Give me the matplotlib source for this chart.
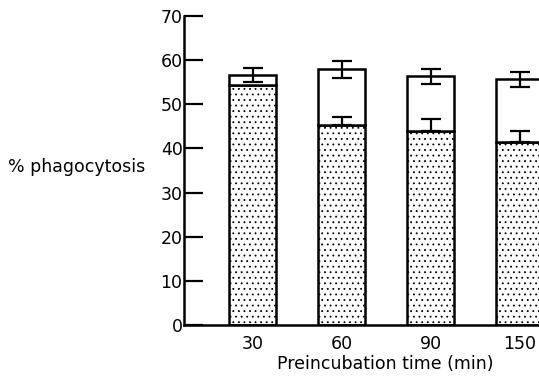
import numpy as np
import matplotlib
matplotlib.use("Agg")
import matplotlib.pyplot as plt

# data
times = ["30", "60", "90", "150"]
lower = [54.4, 45.3, 44.0, 41.4]          # stippled part
lower_err = [0.0, 1.8, 2.7, 2.5]          # upward error only
total = [56.7, 57.9, 56.3, 55.7]          # top of white part
total_err = [1.6, 1.9, 1.65, 1.7]

plt.rcParams['hatch.linewidth'] = 0.6
plt.rcParams['hatch.color'] = '#555555'

fig = plt.figure(figsize=(5.39, 3.76), dpi=100)
# axes stretches past the right edge so the last bar is cut, as in the reference
ax = fig.add_axes([184 / 539, 51 / 376, 380 / 539, 309 / 376])

x = np.arange(len(times))
w = 0.52
ax.bar(x, lower, width=w, color='white', edgecolor='black', linewidth=1.8,
       hatch='...', zorder=2)
ax.bar(x, np.array(total) - np.array(lower), bottom=lower, width=w,
       color='white', edgecolor='black', linewidth=1.8, zorder=2)

ax.errorbar(x, total, yerr=total_err, fmt='none', ecolor='black',
            elinewidth=1.6, capsize=7, capthick=1.6, zorder=3)
ax.errorbar(x[1:], lower[1:], yerr=[np.zeros(3), lower_err[1:]], fmt='none',
            ecolor='black', elinewidth=1.6, capsize=7, capthick=1.6, zorder=3)

ax.set_xlim(-0.77, 3.5)
ax.set_ylim(0, 70)
ax.set_yticks(range(0, 71, 10))
ax.set_xticks(x)
ax.set_xticklabels(times)
ax.tick_params(axis='y', direction='in', length=14, width=1.6, labelsize=12.5, pad=1)
ax.tick_params(axis='x', length=0, labelsize=12.5, pad=7)
for s in ['top', 'right']:
    ax.spines[s].set_visible(False)
for s in ['left', 'bottom']:
    ax.spines[s].set_linewidth(1.8)

fig.text(8 / 539, 1 - 167 / 376, "% phagocytosis", fontsize=12.5, ha='left', va='center')
fig.text(385 / 539, 1 - 364 / 376, "Preincubation time (min)", fontsize=12.5,
         ha='center', va='center')

fig.savefig("out.png", dpi=100)
